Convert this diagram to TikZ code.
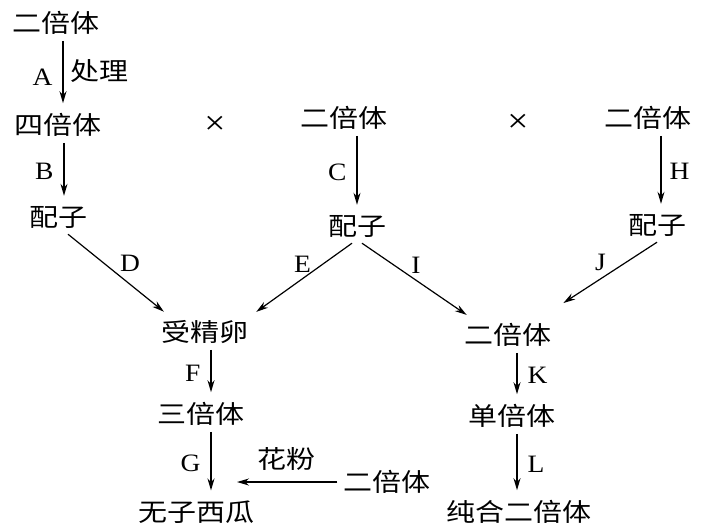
\documentclass[tikz,border=0pt]{standalone}
\usepackage{fontspec}
\setmainfont[FakeStretch=1.1]{Liberation Serif}
\newfontfamily\cjk[FakeStretch=1.16]{Noto Sans CJK SC}
\usetikzlibrary{arrows.meta}

\tikzset{
  txt/.style={font=\cjk\fontsize{25}{30}\selectfont, inner sep=6pt},
  lbl/.style={font=\fontsize{25}{30}\selectfont, inner sep=2pt},
  kreuz/.style={font=\fontsize{34}{36}\selectfont, inner sep=2pt},
  pfeil/.style={-{Stealth[length=12pt,width=7pt]}, line width=1.2pt, shorten >=4pt},
}

\begin{document}
\begin{tikzpicture}[x=1pt, y=-1pt]
  \useasboundingbox (0,0) rectangle (704,531);

  % Obere Reihe
  \node[txt] (d1) at (56,23)   {二倍体};
  \node[txt] (t4) at (58,125)  {四倍体};
  \node[kreuz] (x1) at (215,125) {×};
  \node[txt] (d2) at (344,118) {二倍体};
  \node[kreuz] (x2) at (518,123) {×};
  \node[txt] (d3) at (648,118) {二倍体};

  % Gameten
  \node[txt] (g1) at (58,217)  {配子};
  \node[txt] (g2) at (357,226) {配子};
  \node[txt] (g3) at (657,225) {配子};

  % Untere Reihen
  \node[txt] (zy) at (205,332) {受精卵};
  \node[txt] (d4) at (508,335) {二倍体};
  \node[txt] (t3) at (201,414) {三倍体};
  \node[txt] (h1) at (512,416) {单倍体};
  \node[txt] (d5) at (387,482) {二倍体};
  \node[txt] (ws) at (196,512) {无子西瓜};
  \node[txt] (ch) at (519,512) {纯合二倍体};

  % Senkrechte Pfeile oben
  \draw[pfeil] ([xshift=7pt]d1.south) -- ([xshift=7pt]d1.south |- t4.north)
    node[lbl, midway, left=8pt, yshift=-3pt] {A}
    node[txt, midway, right=1pt, yshift=3pt] {处理};
  \draw[pfeil] ([xshift=6pt]t4.south) -- ([xshift=6pt]t4.south |- g1.north) node[lbl, midway, left=8pt] {B};
  \draw[pfeil] ([xshift=13pt]d2.south) -- ([xshift=13pt]d2.south |- g2.north) node[lbl, midway, left=8pt] {C};
  \draw[pfeil] ([xshift=13pt]d3.south) -- ([xshift=13pt]d3.south |- g3.north) node[lbl, midway, right=6pt] {H};

  % Schraege Pfeile
  \draw[pfeil] ([xshift=10pt]g1.south) -- ([xshift=-38pt]zy.north) node[lbl, midway, above right] {D};
  \draw[pfeil] ([xshift=-5pt]g2.south) -- ([xshift=48pt]zy.north) node[lbl, midway, above=4pt] {E};
  \draw[pfeil] ([xshift=5pt]g2.south) -- ([xshift=-38pt]d4.north) node[lbl, midway, above=4pt] {I};
  \draw[pfeil] (g3.south) -- ([shift={(52,-12)}]d4.north) node[lbl, midway, above left] {J};

  % Senkrechte Pfeile unten
  \draw[pfeil] ([xshift=6pt]zy.south) -- ([xshift=6pt]zy.south |- t3.north) node[lbl, midway, left=8pt] {F};
  \draw[pfeil] ([xshift=9pt]d4.south) -- ([xshift=9pt]d4.south |- h1.north) node[lbl, midway, right=8pt] {K};
  \draw[pfeil] ([xshift=10pt]t3.south) -- coordinate (gm) ([xshift=10pt]t3.south |- ws.north) node[lbl, midway, left=8pt] {G};
  \draw[pfeil] ([xshift=5pt]h1.south) -- ([xshift=5pt]h1.south |- ch.north) node[lbl, midway, right=8pt] {L};

  % Pollen
  \draw[pfeil, shorten >=26pt] (d5.west) -- (d5.west -| gm) node[txt, pos=0.4, above=5pt] {花粉};
\end{tikzpicture}
\end{document}
